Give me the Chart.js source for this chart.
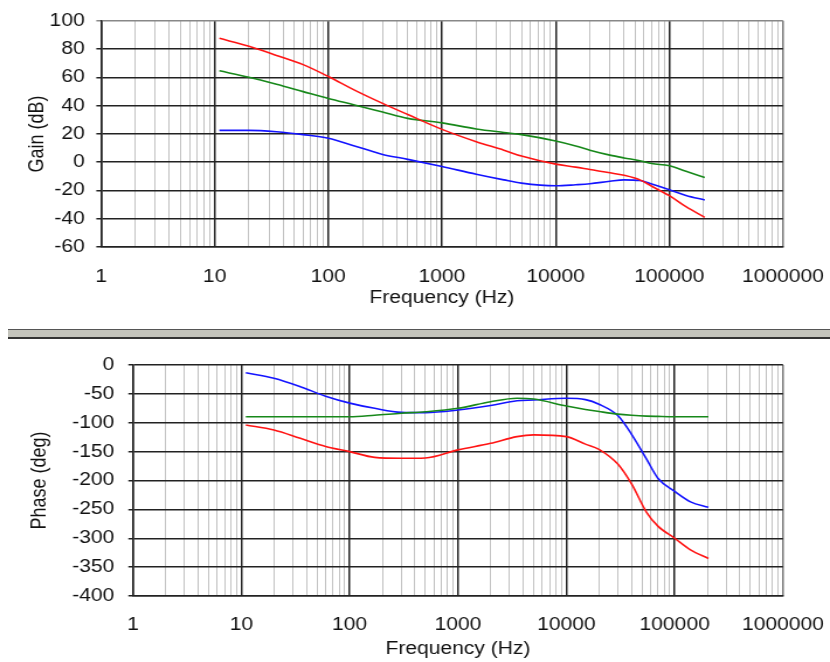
<!DOCTYPE html>
<html>
<head>
<meta charset="utf-8">
<script src="https://cdn.jsdelivr.net/npm/chart.js@4.4.1/dist/chart.umd.min.js"></script>
<style>
html,body{margin:0;padding:0;background:#fff;overflow:hidden;width:830px;height:662px;}
.stretch{position:absolute;left:0;transform-origin:0 0;transform:scaleX(1.169014);}
#topWrap{top:0;}
#botWrap{top:338px;}
#sep{position:absolute;left:8px;top:329px;width:822px;height:10px;box-sizing:border-box;border-top:1px solid #555;border-bottom:2px solid #333;background:#c4c4bc;}
</style>
</head>
<body>
<div id="topWrap" class="stretch"><canvas id="gain" width="710" height="320"></canvas></div>
<div id="sep"></div>
<div id="botWrap" class="stretch"><canvas id="phase" width="710" height="324"></canvas></div>
<script>
// ---- data ----
const FREQ = [11, 20, 35, 60, 100, 170, 300, 500, 1000, 2000, 3500, 5000, 10000, 15000, 20000, 30000, 40000, 55000, 70000, 100000, 140000, 205000];

const GAIN_RED   = [87.6, 82, 75.5, 69, 60.6, 51, 41.6, 33.7, 23.2, 14.5, 8.5, 4.3, -1.4, -3.5, -5.2, -7.5, -9.3, -12.5, -17, -23.7, -31.5, -39];
const GAIN_GREEN = [64.6, 60.1, 55.1, 49.9, 45, 40.5, 35.5, 31, 27.8, 23.5, 21, 19.5, 15, 11.5, 8.5, 5, 3, 1, -1, -2.6, -6.5, -10.8];
const GAIN_BLUE  = [22.5, 22.5, 21.5, 19.5, 16.9, 11.5, 5.5, 2, -3.1, -8.5, -12.5, -14.8, -16.7, -16, -15.3, -13.5, -12.5, -13, -15.5, -19.5, -23.5, -26.7];

const PHASE_BLUE  = [-13.3, -23, -37.5, -54, -66, -75, -82, -82.5, -78, -70, -62, -60.6, -57.7, -60, -68, -88, -120, -163, -196, -219, -237, -246.5];
const PHASE_GREEN = [-89.5, -89.5, -89.5, -89.5, -89.5, -87, -83.5, -81, -75, -63.5, -57.5, -59, -71, -77, -80.5, -85, -87, -88.5, -89, -89.5, -89.5, -89.5];
const PHASE_RED   = [-104, -112.6, -127, -141, -150, -160, -161.6, -161, -147, -135.6, -124, -121, -124, -137, -146, -172, -206, -255, -279, -300, -320, -335];

// ---- tick labels ----
const FREQ_DECADES = [1, 10, 100, 1000, 10000, 100000, 1000000];
const GAIN_TICKS  = [-60, -40, -20, 0, 20, 40, 60, 80, 100];
const PHASE_TICKS = [-400, -350, -300, -250, -200, -150, -100, -50, 0];

const X_TITLE = 'Frequency (Hz)';
const GAIN_TITLE = 'Gain (dB)';
const PHASE_TITLE = 'Phase (deg)';

// ---- styling / layout ----
const STRETCH = 830 / 710;
const sx = v => v / STRETCH;           // screen x -> canvas x
const FONT = {family: "'Liberation Sans', Arial, sans-serif", size: 18};
const TXT = '#111';
const DARK = '#222';
const MINOR = '#c2c2c2';
const COLORS = {red: '#ff1414', green: '#17881a', blue: '#1414ff'};

function series(vals, color) {
  return {
    data: FREQ.map((f, i) => ({x: f, y: vals[i]})),
    borderColor: color,
    backgroundColor: color,
    borderWidth: 1.6,
    pointRadius: 0,
    cubicInterpolationMode: 'monotone',
    fill: false
  };
}

function buildFreqTicks(scale) {
  const t = [];
  FREQ_DECADES.forEach((d, i) => {
    t.push({value: d, major: true});
    if (i < FREQ_DECADES.length - 1) {
      for (let m = 2; m <= 9; m++) t.push({value: d * m, major: false});
    }
  });
  scale.ticks = t;
}

function makeChart(id, opts) {
  return new Chart(document.getElementById(id), {
    type: 'line',
    data: {datasets: opts.datasets},
    options: {
      responsive: false,
      animation: false,
      devicePixelRatio: 1,
      events: [],
      layout: {padding: {left: 0, right: 710 - sx(783), top: opts.padTop, bottom: 0}},
      plugins: {legend: {display: false}, tooltip: {enabled: false}},
      scales: {
        x: {
          type: 'logarithmic',
          min: 1, max: 1000000,
          afterBuildTicks: buildFreqTicks,
          afterFit: s => { s.height = opts.xHeight; },
          ticks: {
            autoSkip: false, maxRotation: 0, minRotation: 0,
            padding: 0,
            font: FONT, color: TXT,
            callback: (v, i, ticks) => ticks[i].major ? String(v) : ''
          },
          grid: {
            drawTicks: true,
            tickLength: opts.xTickGap,
            tickColor: 'rgba(0,0,0,0)',
            color: c => (c.tick && c.tick.major) ? (c.tick.value === 1000000 ? '#777' : DARK) : MINOR,
            lineWidth: c => (c.tick && c.tick.major) ? 1.5 : 1
          },
          border: {display: true, color: DARK, width: 1.5},
          title: {display: true, text: X_TITLE, font: FONT, color: TXT, padding: {top: 0, bottom: opts.xTitlePad}}
        },
        y: {
          type: 'linear',
          min: opts.yTicks[0], max: opts.yTicks[opts.yTicks.length - 1],
          afterBuildTicks: s => { s.ticks = opts.yTicks.map(v => ({value: v})); },
          afterFit: s => { s.width = opts.yWidth; },
          ticks: {
            padding: opts.yTickPad, font: FONT, color: TXT,
            callback: v => String(v)
          },
          grid: {
            drawTicks: true, tickLength: 4,
            color: c => (c.tick && c.tick.value === opts.yTicks[opts.yTicks.length - 1]) ? opts.topEdge : DARK,
            lineWidth: 1.5
          },
          border: {display: true, color: DARK, width: 1.5},
          title: {display: true, text: opts.yTitle, font: FONT, color: TXT, padding: {top: opts.yTitlePad, bottom: 0}}
        }
      }
    }
  });
}

makeChart('gain', {
  datasets: [series(GAIN_RED, COLORS.red), series(GAIN_GREEN, COLORS.green), series(GAIN_BLUE, COLORS.blue)],
  padTop: 19, xHeight: 73, xTickGap: 19, xTitlePad: 11,
  yWidth: sx(101), yTickPad: 10, yTitlePad: sx(38) - 10.8,
  yTicks: GAIN_TICKS, yTitle: GAIN_TITLE, topEdge: '#888'
});

makeChart('phase', {
  datasets: [series(PHASE_RED, COLORS.red), series(PHASE_GREEN, COLORS.green), series(PHASE_BLUE, COLORS.blue)],
  padTop: 27, xHeight: 66, xTickGap: 18, xTitlePad: 2,
  yWidth: sx(133), yTickPad: 12, yTitlePad: sx(40) - 10.8,
  yTicks: PHASE_TICKS, yTitle: PHASE_TITLE, topEdge: DARK
});
</script>
</body>
</html>
